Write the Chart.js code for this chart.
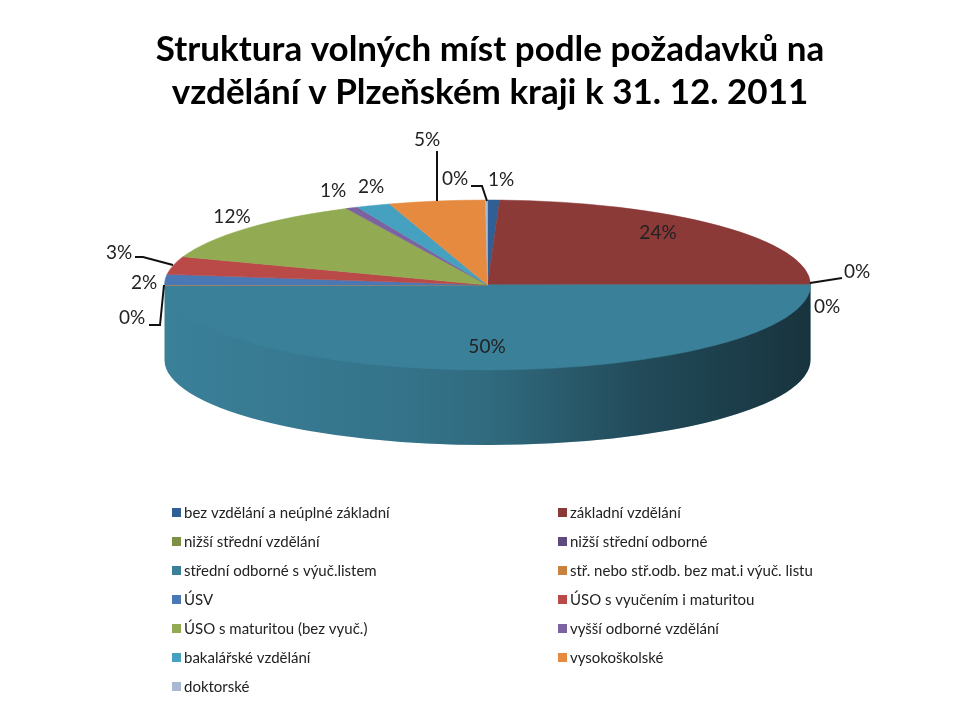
<!DOCTYPE html>
<html>
<head>
<meta charset="utf-8">
<style>
  html, body { margin: 0; padding: 0; background: #fff; }
  canvas { display: block; }
</style>
<script src="https://cdn.jsdelivr.net/npm/chart.js@4/dist/chart.umd.min.js"></script>
</head>
<body>
<canvas id="pie" width="980" height="712"></canvas>
<script>
var titleLines = ["Struktura volných míst podle požadavků na", "vzdělání v Plzeňském kraji k 31. 12. 2011"];
var categories = [
	"bez vzdělání a neúplné základní", "základní vzdělání",
	"nižší střední vzdělání", "nižší střední odborné",
	"střední odborné s výuč.listem", "stř. nebo stř.odb. bez mat.i výuč. listu",
	"ÚSV", "ÚSO s vyučením i maturitou",
	"ÚSO s maturitou (bez vyuč.)", "vyšší odborné vzdělání",
	"bakalářské vzdělání", "vysokoškolské",
	"doktorské"
];
var shares = [0.6, 24.3, 0.05, 0.05, 49.9, 0.1, 2.0, 3.4, 12.4, 0.6, 1.7, 4.8, 0.1];
var colours = ["#2f5f94", "#8b3a38", "#7d9144", "#5f4a7e", "#3a8099", "#c9823e", "#4a78b5",
	"#b94a48", "#92ab52", "#7b62a0", "#46a0bf", "#e68a3f", "#a9b9d4"];

// label centre for each slice, then the leader line if it has one
var labelPos = [[501,180],[658,233],[857,272],[827,307],[487,347],[132,318],[144,283],[119,253],[232,217],[333,191],[371,187],[427,140],[455,179]];
var leaders = {
	2: [[810,283],[842,278]],
	5: [[164,285],[160,325],[149,325]],
	7: [[173,265],[143,257],[135,257]],
	11: [[437,201],[437,151]],
	12: [[487,201],[482,186],[471,186]]
};

var pie = { x: 487.5, y: 285, rx: 323, ry: 85, depth: 75 };

var shapePlugin = {
	id: "shape",
	beforeDatasetsDraw: function (chart) {
		var ctx = chart.ctx;
		var arcs = chart.getDatasetMeta(0).data;

		// side wall, only where a slice faces the front
		arcs.forEach(function (arc, i) {
			var a = Math.max(arc.startAngle, 0), b = Math.min(arc.endAngle, Math.PI);
			if (b <= a) return;
			var shade = ctx.createLinearGradient(pie.x - pie.rx, 0, pie.x + pie.rx, 0);
			shade.addColorStop(0, "rgba(0,0,0,0)");
			shade.addColorStop(0.37, "rgba(0,0,0,0.1)");
			shade.addColorStop(0.5, "rgba(0,0,0,0.17)");
			shade.addColorStop(0.74, "rgba(0,0,0,0.42)");
			shade.addColorStop(1, "rgba(0,0,0,0.6)");
			[colours[i], shade].forEach(function (fill) {
				ctx.beginPath();
				// starts a little higher so no pale seam shows under the top face
				ctx.ellipse(pie.x, pie.y - 1.5, pie.rx, pie.ry, 0, a, b);
				ctx.ellipse(pie.x, pie.y + pie.depth, pie.rx, pie.ry, 0, b, a, true);
				ctx.closePath();
				ctx.fillStyle = fill;
				ctx.fill();
			});
		});

		// flatten the round pie into the top face
		ctx.save();
		ctx.translate(pie.x, pie.y);
		ctx.scale(1, pie.ry / pie.rx);
		ctx.translate(-arcs[0].x, -arcs[0].y);
	},
	afterDatasetsDraw: function (chart) {
		chart.ctx.restore();
	},
	afterDraw: function (chart) {
		var ctx = chart.ctx;
		var total = shares.reduce(function (s, v) { return s + v; }, 0);

		ctx.save();
		ctx.strokeStyle = "#111";
		ctx.lineWidth = 2;
		Object.keys(leaders).forEach(function (k) {
			ctx.beginPath();
			leaders[k].forEach(function (p, n) {
				if (n == 0) ctx.moveTo(p[0], p[1]);
				else ctx.lineTo(p[0], p[1]);
			});
			ctx.stroke();
		});

		ctx.fillStyle = "#222";
		ctx.font = "19px Lato";
		ctx.textAlign = "center";
		ctx.textBaseline = "middle";
		shares.forEach(function (v, i) {
			ctx.fillText(Math.round(v / total * 100) + "%", labelPos[i][0], labelPos[i][1]);
		});

		// two column legend, filled row by row
		ctx.font = "15px Lato";
		ctx.textAlign = "left";
		categories.forEach(function (name, i) {
			var col = i % 2, row = Math.floor(i / 2);
			var y = 512 + row * 29;
			ctx.fillStyle = colours[i];
			ctx.fillRect(col ? 558 : 172, y - 4, 9, 9);
			ctx.fillStyle = "#222";
			ctx.fillText(name, col ? 570 : 184, y + 1);
		});
		ctx.restore();
	}
};

var chart = new Chart(document.getElementById("pie"), {
	type: "pie",
	data: {
		labels: categories,
		datasets: [{
			data: shares,
			backgroundColor: colours,
			borderColor: colours,
			borderWidth: 0.8,
			radius: pie.rx,
			clip: false
		}]
	},
	options: {
		responsive: false,
		animation: false,
		events: [],
		plugins: {
			legend: { display: false },
			tooltip: { enabled: false },
			title: {
				display: true,
				text: titleLines,
				color: "#000",
				font: { family: "Lato", size: 35, weight: "bold", lineHeight: 1.23 },
				padding: { top: 28, bottom: 0 }
			}
		}
	},
	plugins: [shapePlugin]
});
</script>
</body>
</html>
